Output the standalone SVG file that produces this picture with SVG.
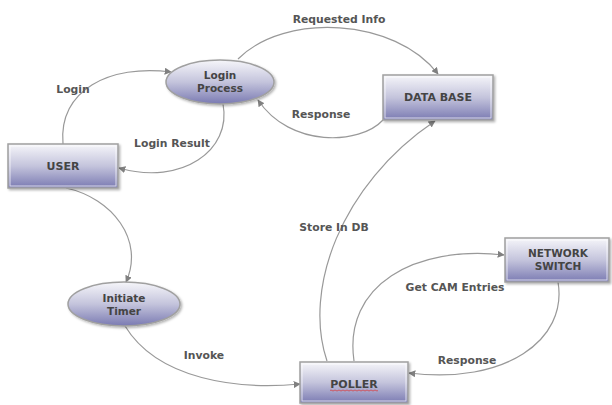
<svg xmlns="http://www.w3.org/2000/svg" width="612" height="405" viewBox="0 0 612 405">
<defs>
<linearGradient id="g" x1="0" y1="0" x2="0" y2="1">
<stop offset="0" stop-color="#f6f6fa"/>
<stop offset="0.5" stop-color="#c4c4dc"/>
<stop offset="1" stop-color="#7a7ab2"/>
</linearGradient>
<filter id="sh" x="-10%" y="-10%" width="125%" height="130%">
<feDropShadow dx="1.5" dy="1.5" stdDeviation="1" flood-color="#000" flood-opacity="0.3"/>
</filter>
<marker id="ah" viewBox="0 0 10 10" refX="9" refY="5" markerWidth="7" markerHeight="7" orient="auto" markerUnits="userSpaceOnUse">
<path d="M0,0 L10,5 L0,10 z" fill="#808080"/>
</marker>
</defs>
<style>
.n{fill:url(#g);stroke:#a0a0a0;stroke-width:1.5;filter:url(#sh)}
.in{fill:none;stroke:#ffffff;stroke-width:1;opacity:0.7}
.t{font-family:"DejaVu Sans",Verdana,sans-serif;font-weight:bold;font-size:11px;fill:#444;text-anchor:middle}
.s{font-family:"DejaVu Sans",Verdana,sans-serif;font-weight:bold;font-size:10.5px;fill:#444;text-anchor:middle}
.l{font-family:"DejaVu Sans",Verdana,sans-serif;font-weight:bold;font-size:10.8px;fill:#555;text-anchor:middle}
.c{fill:none;stroke:#999;stroke-width:1.2;marker-end:url(#ah)}
</style>
<rect width="612" height="405" fill="#ffffff"/>
<g id="connectors">
<path class="c" d="M63,144 C58,90 110,64 171,72"/>
<path class="c" d="M223,104 C232,150 182,186 119,168"/>
<path class="c" d="M238,59 C285,12 395,18 438,74"/>
<path class="c" d="M383,120 C360,145 290,148 258,100"/>
<path class="c" d="M327,361 C303,290 340,185 435,121"/>
<path class="c" d="M354,361 C343,285 415,245 504,255"/>
<path class="c" d="M558,282 C568,340 505,385 409,373"/>
<path class="c" d="M66,188 C112,198 145,240 126,282"/>
<path class="c" d="M125,326 C158,380 238,390 300,384"/>
<text class="l" x="339" y="23">Requested Info</text>
<text class="l" x="73" y="93">Login</text>
<text class="l" x="172" y="147">Login Result</text>
<text class="l" x="321" y="118">Response</text>
<text class="l" x="334" y="231">Store In DB</text>
<text class="l" x="455" y="291">Get CAM Entries</text>
<text class="l" x="467" y="364">Response</text>
<text class="l" x="204" y="359">Invoke</text>
</g>
<g id="user">
<rect class="n" x="8" y="144" width="110" height="44"/>
<rect class="in" x="10" y="146" width="106" height="40"/>
<text class="t" x="63" y="170">USER</text>
</g>
<g id="login-process">
<ellipse class="n" cx="220" cy="82" rx="54" ry="22"/>
<text class="s" x="220" y="79">Login</text>
<text class="s" x="220" y="91.5">Process</text>
</g>
<g id="data-base">
<rect class="n" x="383" y="75" width="110" height="45"/>
<rect class="in" x="385" y="77" width="106" height="41"/>
<text class="t" x="438" y="101">DATA BASE</text>
</g>
<g id="initiate-timer">
<ellipse class="n" cx="124" cy="304" rx="56" ry="22"/>
<text class="s" x="124" y="302">Initiate</text>
<text class="s" x="124" y="314.5">Timer</text>
</g>
<g id="poller">
<rect class="n" x="300" y="362" width="108" height="41"/>
<rect class="in" x="302" y="364" width="104" height="37"/>
<text class="t" x="354" y="388">POLLER</text>
<path d="M330,390.5 q1,-1 2,0 t2,0 t2,0 t2,0 t2,0 t2,0 t2,0 t2,0 t2,0 t2,0 t2,0 t2,0 t2,0 t2,0 t2,0 t2,0 t2,0 t2,0 t2,0 t2,0 t2,0 t2,0 t2,0 t2,0" fill="none" stroke="#e03030" stroke-width="0.7"/>
</g>
<g id="network-switch">
<rect class="n" x="505" y="238" width="104" height="44"/>
<rect class="in" x="507" y="240" width="100" height="40"/>
<text class="s" x="558" y="257">NETWORK</text>
<text class="s" x="558" y="269.5">SWITCH</text>
</g>
</svg>
